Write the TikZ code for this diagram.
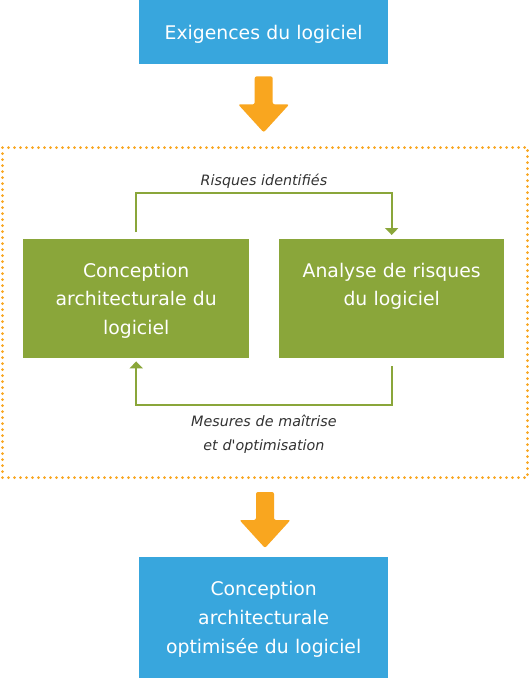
\documentclass[tikz,border=0pt]{standalone}
\usepackage{fontspec}
\setmainfont{DejaVu Sans}
\usetikzlibrary{arrows.meta,calc}
\definecolor{boxblue}{HTML}{38A6DD}
\definecolor{boxgreen}{HTML}{8AA63A}
\definecolor{flowor}{HTML}{F9A61F}
\definecolor{labelgray}{HTML}{333333}
\tikzset{
  bluebox/.style={fill=boxblue, draw=none, inner sep=0pt, anchor=north west},
  greenbox/.style={fill=boxgreen, draw=none, inner sep=0pt, anchor=north west},
  boxtext/.style={text=white, font=\fontsize{18.8}{28.7}\selectfont, align=center, text width=240pt, inner sep=0pt, anchor=base},
  flowlabel/.style={text=labelgray, font=\itshape\fontsize{14.3}{24}\selectfont, align=center, text width=220pt, inner sep=0pt, anchor=base},
  greenline/.style={draw=boxgreen, line width=2pt, -{Triangle[width=13pt,length=7pt]}},
  loopframe/.style={draw=flowor, line width=3pt, dash pattern=on 0pt off 6pt, line cap=round, inner sep=0pt, anchor=north west},
  bigarrow/.pic={\fill[flowor, rounded corners=2pt] (-9,0) -- (9,0) -- (9,28) -- (25.5,28) -- (0,56) -- (-25.5,28) -- (-9,28) -- cycle;}
}
\begin{document}
\begin{tikzpicture}[x=1pt,y=-1pt]
\useasboundingbox (0,0) rectangle (528,678);
\fill[white] (0,0) rectangle (528,678);
% boxes
\node[bluebox, minimum width=249pt, minimum height=64pt] (req) at (139,0) {};
\node[loopframe, minimum width=525pt, minimum height=330pt] (loop) at (1,146) {};
\node[greenbox, minimum width=226pt, minimum height=119pt] (design) at (23,239) {};
\node[greenbox, minimum width=225pt, minimum height=119pt] (risk) at (279,239) {};
\node[bluebox, minimum width=249pt, minimum height=121pt] (final) at (139,557) {};
% texts in boxes
\node[boxtext] (reqtxt) at (req.center |- 0,39.7) {Exigences du logiciel};
\node[boxtext] (designtxt) at (design.center |- 0,277) {Conception\\architecturale du\\logiciel};
\node[boxtext] (risktxt) at (risk.center |- 0,277) {Analyse de risques\\du logiciel};
\node[boxtext] (finaltxt) at (final.center |- 0,595.7) {Conception\\architecturale\\optimisée du logiciel};
% orange flow arrows
\pic at ([yshift=-12pt]req.south) {bigarrow};
\pic at ([yshift=-13pt]loop.south) {bigarrow};
% green loop connectors
\draw[greenline] ([yshift=7pt]design.north) -- ++(0,-39) coordinate (tl) -| ([yshift=4pt]risk.north);
\draw[greenline] ([yshift=-8pt]risk.south) -- ++(0,39) coordinate (br) -| ([yshift=-3pt]design.south);
\node[flowlabel] (risklbl) at ($($(tl)!0.5!(tl -| risk.north)$)+(0,-8)$) {Risques identifiés};
\node[flowlabel] (measlbl) at ($($(br)!0.5!(br -| design.south)$)+(0,21)$) {Mesures de maîtrise\\et d\textquotesingle optimisation};
\end{tikzpicture}
\end{document}
